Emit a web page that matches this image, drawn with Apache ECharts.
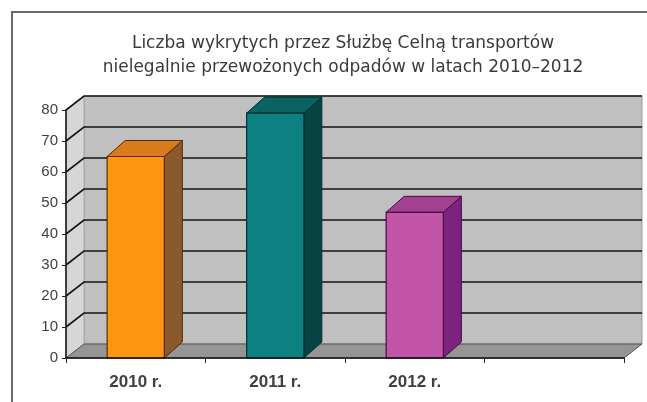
<!DOCTYPE html>
<html>
<head>
<meta charset="utf-8">
<title>Odpady – transporty nielegalne</title>
<script src="https://cdn.jsdelivr.net/npm/echarts@6/dist/echarts.min.js"></script>
<style>
  html, body { margin: 0; padding: 0; background: #ffffff; }
  #chart { width: 647px; height: 402px; }
</style>
</head>
<body>
<div id="chart"></div>
<script>
// Years shown on the category axis (the last slot stays empty)
const categories = ['2010 r.', '2011 r.', '2012 r.', ''];
// Detected illegal waste shipments per year
const counts = [65, 79, 47];
// Value-axis tick labels
const yTicks = [0, 10, 20, 30, 40, 50, 60, 70, 80];

const titleLines = [
  'Liczba wykrytych przez Służbę Celną transportów',
  'nielegalnie przewożonych odpadów w latach 2010–2012'
];

// Pseudo-3D depth of the walls and of the columns (pixels)
const WALL_DX = 18, WALL_DY = -14;
const BAR_DX = 18, BAR_DY = -16;

// Column faces: front, top, side, outline
const barPalette = [
  { front: '#ff9612', top: '#d97a1c', side: '#8a5a2a', line: '#5a2a00' },
  { front: '#0d8181', top: '#0a6262', side: '#064444', line: '#023030' },
  { front: '#c355a8', top: '#a2428f', side: '#7d237f', line: '#4a0a48' }
];

const chart = echarts.init(document.getElementById('chart'), null, { renderer: 'canvas' });

function renderWalls(params, api) {
  const cs = params.coordSys;
  const x0 = cs.x, x1 = cs.x + cs.width;
  const yTop = cs.y, yBot = cs.y + cs.height;
  const children = [];
  // back wall
  children.push({
    type: 'rect',
    shape: { x: x0 + WALL_DX, y: yTop + WALL_DY, width: cs.width, height: cs.height },
    style: { fill: '#c0c0c0', stroke: '#9a9a9a', lineWidth: 1 }
  });
  // side wall
  children.push({
    type: 'polygon',
    shape: { points: [[x0, yBot], [x0, yTop], [x0 + WALL_DX, yTop + WALL_DY], [x0 + WALL_DX, yBot + WALL_DY]] },
    style: { fill: '#d6d6d6', stroke: '#a8a8a8', lineWidth: 1 }
  });
  // gridlines on back and side walls
  yTicks.forEach(function (v) {
    const y = api.coord([0, v])[1];
    if (v === yTicks[0]) return;
    children.push({
      type: 'polyline',
      shape: { points: [[x0, y], [x0 + WALL_DX, y + WALL_DY], [x1 + WALL_DX, y + WALL_DY]] },
      style: { fill: null, stroke: '#151515', lineWidth: 1.6 }
    });
  });
  // floor
  children.push({
    type: 'polygon',
    shape: { points: [[x0, yBot], [x1, yBot], [x1 + WALL_DX, yBot + WALL_DY], [x0 + WALL_DX, yBot + WALL_DY]] },
    style: { fill: '#959595', stroke: '#555555', lineWidth: 1 }
  });
  return { type: 'group', children: children };
}

function renderBar(params, api) {
  const idx = api.value(0);
  const top = api.coord([idx, api.value(1)]);
  const base = api.coord([idx, 0]);
  const w = api.size([1, 0])[0] * 0.41;
  const xa = top[0] - w / 2, xb = top[0] + w / 2;
  const yt = top[1], yb = base[1];
  const c = barPalette[params.dataIndex % barPalette.length];
  return {
    type: 'group',
    children: [
      {
        type: 'polygon',
        shape: { points: [[xb, yt], [xb, yb], [xb + BAR_DX, yb + BAR_DY], [xb + BAR_DX, yt + BAR_DY]] },
        style: { fill: c.side, stroke: c.line, lineWidth: 1 }
      },
      {
        type: 'polygon',
        shape: { points: [[xa, yt], [xb, yt], [xb + BAR_DX, yt + BAR_DY], [xa + BAR_DX, yt + BAR_DY]] },
        style: { fill: c.top, stroke: c.line, lineWidth: 1 }
      },
      {
        type: 'rect',
        shape: { x: xa, y: yt, width: w, height: yb - yt },
        style: { fill: c.front, stroke: c.line, lineWidth: 1.2 }
      }
    ]
  };
}

chart.setOption({
  backgroundColor: '#ffffff',
  animation: false,
  title: {
    text: titleLines.join('\n'),
    left: 343,
    textAlign: 'center',
    top: 27,
    textStyle: {
      fontFamily: 'DejaVu Sans',
      fontSize: 17,
      fontWeight: 'normal',
      color: '#3a3a3a',
      lineHeight: 24
    }
  },
  graphic: [{
    type: 'rect',
    silent: true,
    shape: { x: 12, y: 12, width: 700, height: 500 },
    style: { fill: null, stroke: '#6a6a6a', lineWidth: 2 }
  }],
  grid: { left: 66, right: 23, top: 110, bottom: 44, containLabel: false },
  xAxis: {
    type: 'category',
    data: categories,
    boundaryGap: true,
    axisLine: { lineStyle: { color: '#111', width: 1.5 } },
    axisTick: { show: true, length: 5, lineStyle: { color: '#222' } },
    axisLabel: {
      margin: 16,
      fontFamily: 'Liberation Sans',
      fontSize: 17,
      fontWeight: 'bold',
      color: '#404040'
    },
    splitLine: { show: false },
    z: 5
  },
  yAxis: {
    type: 'value',
    min: yTicks[0],
    max: yTicks[yTicks.length - 1],
    interval: yTicks[1] - yTicks[0],
    axisLine: { show: true, lineStyle: { color: '#111', width: 1.5 } },
    axisTick: { show: true, length: 4, lineStyle: { color: '#222' } },
    axisLabel: {
      margin: 8,
      fontFamily: 'Liberation Sans',
      fontSize: 15,
      color: '#404040'
    },
    splitLine: { show: false },
    z: 5
  },
  series: [
    {
      type: 'custom',
      name: 'walls',
      silent: true,
      renderItem: renderWalls,
      data: [[0, 0]],
      z: 1
    },
    {
      type: 'custom',
      name: 'Transporty',
      renderItem: renderBar,
      encode: { x: 0, y: 1 },
      data: counts.map(function (v, i) { return [i, v]; }),
      z: 3
    }
  ]
});
// keep the two-line heading centred over the plot walls
chart.setOption({ title: { left: 338 } });
</script>
</body>
</html>
